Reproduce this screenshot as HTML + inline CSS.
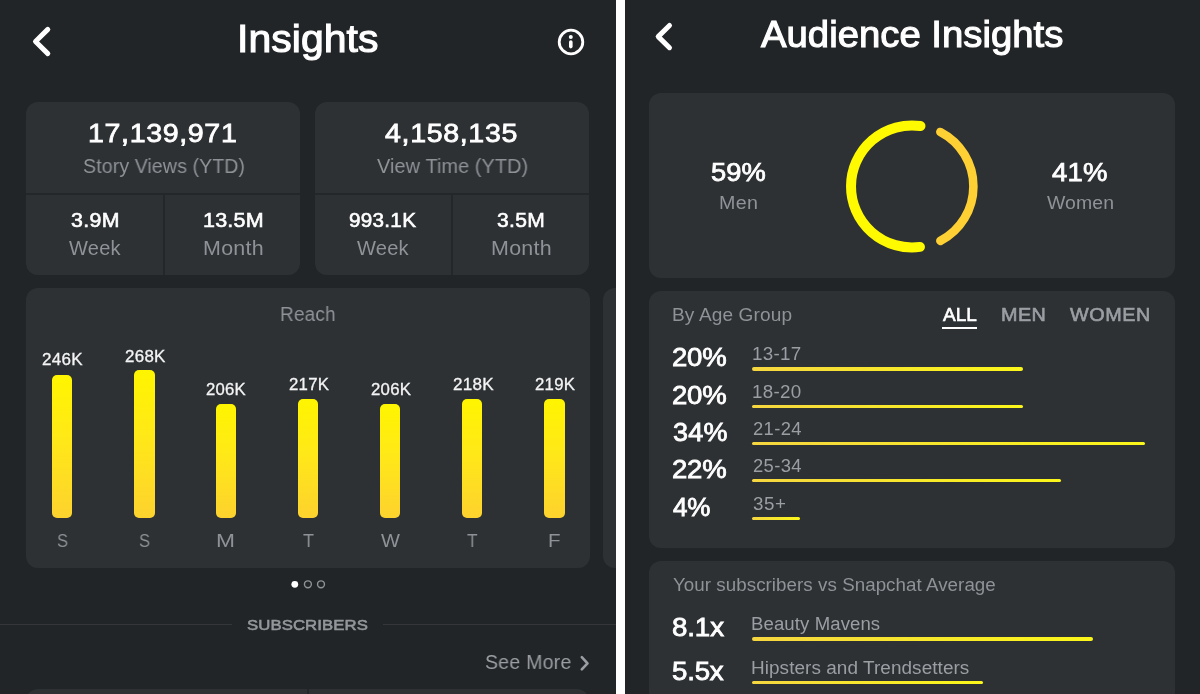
<!DOCTYPE html>
<html lang="en">
<head>
<meta charset="utf-8">
<title>Insights</title>
<style>
html,body{margin:0;padding:0;}
body{width:1200px;height:694px;overflow:hidden;background:#222528;position:relative;font-family:"Liberation Sans",sans-serif;}
.t{position:absolute;white-space:nowrap;line-height:1;margin:0;padding:0;will-change:transform;transform-origin:0 0;}
.c{position:absolute;background:#2d3134;border-radius:12px;}
.b{position:absolute;width:20px;border-radius:5px;background:linear-gradient(180deg,#fff500 0%,#ffe818 45%,#fdd22e 100%);}
.ln{position:absolute;height:3.2px;border-radius:2px;background:linear-gradient(90deg,#f6d640 0%,#f8ea28 60%,#fbf61a 100%);}
.hd{position:absolute;background:#24272a;}
svg{position:absolute;left:0;top:0;overflow:visible;}

</style>
</head>
<body>
<!-- left panel: Insights -->
<div class="c" style="left:26px;top:101.5px;width:274px;height:173.5px;"></div>
<div class="c" style="left:315px;top:101.5px;width:274.3px;height:173.5px;"></div>
<div class="hd" style="left:26px;top:193px;width:274px;height:2px;background:#24272a"></div>
<div class="hd" style="left:163.4px;top:194px;width:2px;height:81px;background:#24272a"></div>
<div class="hd" style="left:315px;top:193px;width:274.3px;height:2px;background:#24272a"></div>
<div class="hd" style="left:451.4px;top:194px;width:2px;height:81px;background:#24272a"></div>
<div class="c" style="left:26px;top:288.3px;width:563.5px;height:279.7px;"></div>
<div class="c" style="left:603px;top:288.3px;width:13px;height:279.7px;border-radius:12px 0 0 12px;"></div>
<div class="b" style="left:52.4px;top:374.6px;width:20.1px;height:143.2px"></div>
<div class="b" style="left:134.1px;top:370px;width:20.6px;height:147.8px"></div>
<div class="b" style="left:215.8px;top:404px;width:20.4px;height:113.8px"></div>
<div class="b" style="left:297.8px;top:398.5px;width:20.4px;height:119.3px"></div>
<div class="b" style="left:380px;top:404px;width:20.4px;height:113.8px"></div>
<div class="b" style="left:462px;top:398.5px;width:20.4px;height:119.3px"></div>
<div class="b" style="left:544px;top:398.5px;width:20.6px;height:119.3px"></div>
<div class="hd" style="left:0px;top:623.8px;width:232px;height:1.2px;background:#34363a"></div>
<div class="hd" style="left:383.4px;top:623.8px;width:232.6px;height:1.2px;background:#34363a"></div>
<div class="c" style="left:26px;top:689.2px;width:563.3px;height:30.8px;"></div>
<div class="hd" style="left:307.2px;top:689.2px;width:1.4px;height:30.8px;background:#24272a"></div>
<div class="hd" style="left:616px;top:0px;width:9.4px;height:694px;background:#ffffff"></div>
<!-- right panel: Audience Insights -->
<div class="c" style="left:649.3px;top:92.8px;width:525.7px;height:185.2px;"></div>
<div class="c" style="left:649.3px;top:290.8px;width:525.7px;height:256.8px;"></div>
<div class="c" style="left:649.3px;top:561px;width:525.7px;height:169px;"></div>
<div class="ln" style="left:751.8px;top:367.4px;width:271.2px"></div>
<div class="ln" style="left:751.8px;top:404.9px;width:271.2px"></div>
<div class="ln" style="left:751.8px;top:441.7px;width:393.5px"></div>
<div class="ln" style="left:751.8px;top:479.1px;width:309.2px"></div>
<div class="ln" style="left:751.8px;top:516.8px;width:48.5px"></div>
<div class="ln" style="left:751.8px;top:637.4px;width:341.7px"></div>
<div class="ln" style="left:751.8px;top:681.15px;width:231.7px"></div>
<div class="hd" style="left:942.3px;top:326.8px;width:34.7px;height:2.5px;background:#ffffff"></div>
<svg width="1200" height="694" viewBox="0 0 1200 694" fill="none" stroke-linecap="round" stroke-linejoin="round">
<path d="M47.8 29.4 L35.5 41.5 L47.8 53.6" stroke="#fff" stroke-width="5"/>
<path d="M669.5 25.5 L658.2 36.6 L669.5 47.7" stroke="#fff" stroke-width="5"/>
<circle cx="571" cy="42" r="11.8" stroke="#fff" stroke-width="2.8"/>
<circle cx="570.8" cy="37" r="2" fill="#fff"/>
<path d="M570.8 42 L570.8 46.6" stroke="#fff" stroke-width="3.6"/>
<path d="M581.8 657.2 L587.5 663.3 L581.8 669.4" stroke="#9b9ea3" stroke-width="2.6"/>
<circle cx="294.8" cy="584.3" r="3.4" fill="#fff"/>
<circle cx="307.9" cy="584.3" r="3.45" stroke="#8f9296" stroke-width="1.4"/>
<circle cx="321" cy="584.3" r="3.45" stroke="#8f9296" stroke-width="1.4"/>
<path d="M920.49 125.99 A61 61 0 1 0 919.96 246.88" stroke="#fffa00" stroke-width="10"/>
<path d="M940.35 131.94 A61.4 61.4 0 0 1 940.35 240.86" stroke="#ffd033" stroke-width="8.6"/>
</svg>
<div class="t" id="l_title" style="left:236.65px;top:18.78px;font-size:39px;letter-spacing:0.05px;color:#ffffff;-webkit-text-stroke:1.1px currentColor;transform:scaleX(1.050);">Insights</div>
<div class="t" id="l_n1" style="left:88.28px;top:119.59px;font-size:26px;letter-spacing:0.57px;color:#ffffff;-webkit-text-stroke:0.78px currentColor;transform:scaleX(1.100);">17,139,971</div>
<div class="t" id="l_s1" style="left:82.72px;top:155.77px;font-size:20px;letter-spacing:0.12px;color:#8f9297;transform:scaleX(0.976);">Story Views (YTD)</div>
<div class="t" id="l_a1" style="left:71.30px;top:209.67px;font-size:20px;letter-spacing:0.32px;color:#ffffff;-webkit-text-stroke:0.6px currentColor;transform:scaleX(1.066);">3.9M</div>
<div class="t" id="l_a2" style="left:68.81px;top:238.59px;font-size:19.5px;letter-spacing:0.22px;color:#8f9297;transform:scaleX(1.027);">Week</div>
<div class="t" id="l_b1" style="left:202.93px;top:209.67px;font-size:20px;letter-spacing:0.20px;color:#ffffff;-webkit-text-stroke:0.6px currentColor;transform:scaleX(1.074);">13.5M</div>
<div class="t" id="l_b2" style="left:202.81px;top:238.59px;font-size:19.5px;letter-spacing:0.25px;color:#8f9297;transform:scaleX(1.100);">Month</div>
<div class="t" id="l_n2" style="left:385.00px;top:119.59px;font-size:26px;letter-spacing:0.58px;color:#ffffff;-webkit-text-stroke:0.78px currentColor;transform:scaleX(1.100);">4,158,135</div>
<div class="t" id="l_s2" style="left:376.75px;top:155.77px;font-size:20px;letter-spacing:0.09px;color:#8f9297;transform:scaleX(0.995);">View Time (YTD)</div>
<div class="t" id="l_c1" style="left:349.30px;top:209.67px;font-size:20px;letter-spacing:0.29px;color:#ffffff;-webkit-text-stroke:0.6px currentColor;transform:scaleX(1.032);">993.1K</div>
<div class="t" id="l_c2" style="left:357.01px;top:238.59px;font-size:19.5px;letter-spacing:0.21px;color:#8f9297;transform:scaleX(1.031);">Week</div>
<div class="t" id="l_d1" style="left:496.73px;top:209.67px;font-size:20px;letter-spacing:0.33px;color:#ffffff;-webkit-text-stroke:0.6px currentColor;transform:scaleX(1.052);">3.5M</div>
<div class="t" id="l_d2" style="left:491.30px;top:238.59px;font-size:19.5px;letter-spacing:0.26px;color:#8f9297;transform:scaleX(1.100);">Month</div>
<div class="t" id="l_reach" style="left:280.25px;top:304.47px;font-size:20px;letter-spacing:0.20px;color:#8f9297;transform:scaleX(0.948);">Reach</div>
<div class="t" id="l_bl0" style="left:42.48px;top:350.73px;font-size:16.5px;letter-spacing:0.30px;color:#f4f4f4;-webkit-text-stroke:0.3px currentColor;transform:scaleX(1.030);">246K</div>
<div class="t" id="l_bd0" style="left:57.00px;top:530.91px;font-size:19px;letter-spacing:0.00px;color:#8f9297;transform:scaleX(0.867);">S</div>
<div class="t" id="l_bl1" style="left:125.40px;top:348.13px;font-size:16.5px;letter-spacing:0.29px;color:#f4f4f4;-webkit-text-stroke:0.3px currentColor;transform:scaleX(1.025);">268K</div>
<div class="t" id="l_bd1" style="left:139.20px;top:530.91px;font-size:19px;letter-spacing:0.00px;color:#8f9297;transform:scaleX(0.867);">S</div>
<div class="t" id="l_bl2" style="left:206.20px;top:380.53px;font-size:16.5px;letter-spacing:0.23px;color:#f4f4f4;-webkit-text-stroke:0.3px currentColor;transform:scaleX(1.012);">206K</div>
<div class="t" id="l_bd2" style="left:216.10px;top:530.91px;font-size:19px;letter-spacing:0.00px;color:#8f9297;transform:scaleX(1.200);">M</div>
<div class="t" id="l_bl3" style="left:289.10px;top:375.93px;font-size:16.5px;letter-spacing:0.23px;color:#f4f4f4;-webkit-text-stroke:0.3px currentColor;transform:scaleX(1.017);">217K</div>
<div class="t" id="l_bd3" style="left:303.20px;top:530.91px;font-size:19px;letter-spacing:0.00px;color:#8f9297;transform:scaleX(0.950);">T</div>
<div class="t" id="l_bl4" style="left:371.30px;top:380.53px;font-size:16.5px;letter-spacing:0.23px;color:#f4f4f4;-webkit-text-stroke:0.3px currentColor;transform:scaleX(1.017);">206K</div>
<div class="t" id="l_bd4" style="left:380.60px;top:530.91px;font-size:19px;letter-spacing:0.00px;color:#8f9297;transform:scaleX(1.056);">W</div>
<div class="t" id="l_bl5" style="left:453.00px;top:375.93px;font-size:16.5px;letter-spacing:0.26px;color:#f4f4f4;-webkit-text-stroke:0.3px currentColor;transform:scaleX(1.033);">218K</div>
<div class="t" id="l_bd5" style="left:467.00px;top:530.91px;font-size:19px;letter-spacing:0.00px;color:#8f9297;transform:scaleX(0.900);">T</div>
<div class="t" id="l_bl6" style="left:534.50px;top:375.93px;font-size:16.5px;letter-spacing:0.23px;color:#f4f4f4;-webkit-text-stroke:0.3px currentColor;transform:scaleX(1.017);">219K</div>
<div class="t" id="l_bd6" style="left:548.12px;top:530.91px;font-size:19px;letter-spacing:0.00px;color:#8f9297;transform:scaleX(1.080);">F</div>
<div class="t" id="l_subs" style="left:246.60px;top:617.38px;font-size:15.5px;letter-spacing:0.08px;color:#94979b;-webkit-text-stroke:0.6px currentColor;transform:scaleX(1.080);">SUBSCRIBERS</div>
<div class="t" id="l_more" style="left:484.72px;top:652.07px;font-size:20px;letter-spacing:0.28px;color:#9b9ea3;transform:scaleX(0.974);">See More</div>
<div class="t" id="r_title" style="left:760.50px;top:15.67px;font-size:37px;letter-spacing:-0.00px;color:#ffffff;-webkit-text-stroke:1.1px currentColor;transform:scaleX(1.035);">Audience Insights</div>
<div class="t" id="r_p1" style="left:710.91px;top:160.43px;font-size:25px;letter-spacing:0.04px;color:#ffffff;-webkit-text-stroke:0.75px currentColor;transform:scaleX(1.092);">59%</div>
<div class="t" id="r_p1l" style="left:718.75px;top:193.76px;font-size:18px;letter-spacing:0.27px;color:#8f9297;transform:scaleX(1.094);">Men</div>
<div class="t" id="r_p2" style="left:1052.00px;top:160.43px;font-size:25px;letter-spacing:0.16px;color:#ffffff;-webkit-text-stroke:0.75px currentColor;transform:scaleX(1.100);">41%</div>
<div class="t" id="r_p2l" style="left:1047.20px;top:193.76px;font-size:18px;letter-spacing:0.08px;color:#8f9297;transform:scaleX(1.081);">Women</div>
<div class="t" id="r_age" style="left:672.11px;top:306.58px;font-size:17.5px;letter-spacing:0.12px;color:#8f9297;transform:scaleX(1.089);">By Age Group</div>
<div class="t" id="r_all" style="left:942.50px;top:305.96px;font-size:18px;letter-spacing:0.04px;color:#ffffff;-webkit-text-stroke:0.6px currentColor;transform:scaleX(1.056);">ALL</div>
<div class="t" id="r_men" style="left:1000.60px;top:305.96px;font-size:18px;letter-spacing:0.40px;color:#9b9ea3;-webkit-text-stroke:0.6px currentColor;transform:scaleX(1.100);">MEN</div>
<div class="t" id="r_women" style="left:1070.10px;top:305.96px;font-size:18px;letter-spacing:0.52px;color:#9b9ea3;-webkit-text-stroke:0.6px currentColor;transform:scaleX(1.100);">WOMEN</div>
<div class="t" id="r_ap0" style="left:672.32px;top:345.01px;font-size:25.5px;letter-spacing:-0.19px;color:#ffffff;-webkit-text-stroke:0.79px currentColor;transform:scaleX(1.080);">20%</div>
<div class="t" id="r_al0" style="left:752.46px;top:344.76px;font-size:18px;letter-spacing:0.29px;color:#9b9ea3;transform:scaleX(1.044);">13-17</div>
<div class="t" id="r_ap1" style="left:672.32px;top:382.61px;font-size:25.5px;letter-spacing:-0.19px;color:#ffffff;-webkit-text-stroke:0.79px currentColor;transform:scaleX(1.080);">20%</div>
<div class="t" id="r_al1" style="left:752.46px;top:383.36px;font-size:18px;letter-spacing:0.28px;color:#9b9ea3;transform:scaleX(1.044);">18-20</div>
<div class="t" id="r_ap2" style="left:673.40px;top:419.81px;font-size:25.5px;letter-spacing:0.25px;color:#ffffff;-webkit-text-stroke:0.79px currentColor;transform:scaleX(1.058);">34%</div>
<div class="t" id="r_al2" style="left:752.74px;top:419.56px;font-size:18px;letter-spacing:0.36px;color:#9b9ea3;transform:scaleX(1.021);">21-24</div>
<div class="t" id="r_ap3" style="left:672.32px;top:457.11px;font-size:25.5px;letter-spacing:-0.19px;color:#ffffff;-webkit-text-stroke:0.79px currentColor;transform:scaleX(1.080);">22%</div>
<div class="t" id="r_al3" style="left:752.74px;top:456.86px;font-size:18px;letter-spacing:0.36px;color:#9b9ea3;transform:scaleX(1.021);">25-34</div>
<div class="t" id="r_ap4" style="left:673.40px;top:494.71px;font-size:25.5px;letter-spacing:-0.12px;color:#ffffff;-webkit-text-stroke:0.79px currentColor;transform:scaleX(1.020);">4%</div>
<div class="t" id="r_al4" style="left:752.72px;top:495.46px;font-size:18px;letter-spacing:0.54px;color:#9b9ea3;transform:scaleX(1.043);">35+</div>
<div class="t" id="r_vs" style="left:673.20px;top:577.18px;font-size:17.5px;letter-spacing:0.05px;color:#8f9297;transform:scaleX(1.071);">Your subscribers vs Snapchat Average</div>
<div class="t" id="r_x1" style="left:672.21px;top:613.81px;font-size:26.5px;letter-spacing:-0.10px;color:#ffffff;-webkit-text-stroke:0.82px currentColor;transform:scaleX(1.044);">8.1x</div>
<div class="t" id="r_x1l" style="left:751.47px;top:615.26px;font-size:18px;letter-spacing:0.09px;color:#9b9ea3;transform:scaleX(1.032);">Beauty Mavens</div>
<div class="t" id="r_x2" style="left:672.21px;top:658.06px;font-size:26.5px;letter-spacing:-0.19px;color:#ffffff;-webkit-text-stroke:0.82px currentColor;transform:scaleX(1.044);">5.5x</div>
<div class="t" id="r_x2l" style="left:751.45px;top:658.76px;font-size:18px;letter-spacing:0.06px;color:#9b9ea3;transform:scaleX(1.052);">Hipsters and Trendsetters</div>
</body>
</html>
